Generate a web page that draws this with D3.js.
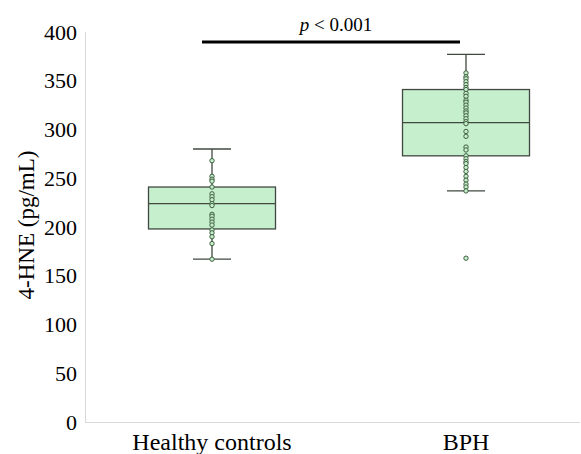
<!DOCTYPE html>
<html>
<head>
<meta charset="utf-8">
<script src="https://d3js.org/d3.v7.min.js"></script>
<style>
    body { margin: 0; background: #fff; overflow: hidden; }
    svg { display: block; }
    .frame { stroke: #d9d9d9; stroke-width: 1; }
    .box { fill: #c6efce; stroke: #404840; stroke-width: 1.3; }
    .whisk { stroke: #404840; stroke-width: 1.3; }
    .pt { fill: #c6efce; stroke: #3f5f3f; stroke-width: 1; }
</style>
</head>
<body>
<svg></svg>
<script>
    const W = 581, H = 454;

    const categories = ["Healthy controls", "BPH"];
    // [min whisker, q1, median, q3, max whisker]
    const boxStats = [
        [167, 198, 224, 241, 280],
        [237, 273, 307, 341, 377]
    ];
    const healthyPoints = [268, 252, 249, 247, 241, 234, 231, 228, 224, 222,
                           213, 211, 208, 205, 202, 197, 194, 190, 183, 167];
    const bphPoints = [358, 354, 352, 349, 346, 343, 341, 337, 334, 330, 328, 325,
                       322, 319, 317, 314, 311, 308, 306, 298, 293, 282, 279, 273,
                       270, 267, 265, 261, 257, 252, 248, 244, 241, 237, 168];
    const points = [healthyPoints, bphPoints];
    const yTicks = [0, 50, 100, 150, 200, 250, 300, 350, 400];
    const pLabel = "< 0.001";

    const padL = 85, padR = 580, padT = 32, padB = 422;
    const serif = "Liberation Serif";

    const svg = d3.select("svg").attr("width", W).attr("height", H);

    const y = d3.scaleLinear().domain([0, 400]).range([padB, padT]);
    const x = d3.scaleBand().domain(categories).range([padL, 593]);
    const boxW = x.bandwidth() * 0.5;
    const capW = 38;

    // frame
    svg.append("line").attr("class", "frame")
        .attr("x1", padL + 0.5).attr("x2", padL + 0.5).attr("y1", padT).attr("y2", padB);
    svg.append("line").attr("class", "frame")
        .attr("x1", padL).attr("x2", padR).attr("y1", padB + 0.5).attr("y2", padB + 0.5);

    // y axis labels
    const yAxis = d3.axisLeft(y).tickValues(yTicks).tickSize(0).tickPadding(8);
    const ya = svg.append("g").attr("transform", "translate(" + padL + ",0)").call(yAxis);
    ya.select(".domain").remove();
    ya.selectAll("text")
        .attr("fill", "#000")
        .style("font-family", serif)
        .style("font-size", "22px");

    // x labels
    const xAxis = d3.axisBottom(x).tickSize(0).tickPadding(11);
    const xa = svg.append("g").attr("transform", "translate(0," + padB + ")").call(xAxis);
    xa.select(".domain").remove();
    xa.selectAll("text")
        .attr("fill", "#000")
        .style("font-family", serif)
        .style("font-size", "24px");

    // y title
    svg.append("text")
        .attr("transform", "translate(34," + 225 + ") rotate(-90)")
        .attr("text-anchor", "middle")
        .style("font-family", serif)
        .style("font-size", "23px")
        .text("4-HNE (pg/mL)");

    // boxes
    const g = svg.selectAll("g.cat").data(categories).enter().append("g").attr("class", "cat");
    g.each(function(c, i) {
        const s = boxStats[i];
        const cx = x(c) + x.bandwidth() / 2;
        const sel = d3.select(this);
        sel.append("line").attr("class", "whisk")
            .attr("x1", cx).attr("x2", cx).attr("y1", y(s[4])).attr("y2", y(s[0]));
        sel.append("line").attr("class", "whisk")
            .attr("x1", cx - capW / 2).attr("x2", cx + capW / 2).attr("y1", y(s[4])).attr("y2", y(s[4]));
        sel.append("line").attr("class", "whisk")
            .attr("x1", cx - capW / 2).attr("x2", cx + capW / 2).attr("y1", y(s[0])).attr("y2", y(s[0]));
        sel.append("rect").attr("class", "box")
            .attr("x", cx - boxW / 2).attr("width", boxW)
            .attr("y", y(s[3])).attr("height", y(s[1]) - y(s[3]));
        sel.append("line").attr("class", "whisk")
            .attr("x1", cx - boxW / 2).attr("x2", cx + boxW / 2).attr("y1", y(s[2])).attr("y2", y(s[2]));
        sel.selectAll("circle").data(points[i]).enter().append("circle").attr("class", "pt")
            .attr("cx", cx).attr("cy", (d) => y(d)).attr("r", 2.2);
    });

    // significance bar
    const c0 = x(categories[0]) + x.bandwidth() / 2, c1 = x(categories[1]) + x.bandwidth() / 2;
    svg.append("line")
        .attr("x1", c0 - 10).attr("x2", c1 - 6).attr("y1", 42).attr("y2", 42)
        .attr("stroke", "#000").attr("stroke-width", 3);
    const pt = svg.append("text").attr("x", (c0 + c1) / 2 - 3).attr("y", 31)
        .attr("text-anchor", "middle")
        .style("font-family", serif).style("font-size", "19px");
    pt.append("tspan").style("font-style", "italic").text("p");
    pt.append("tspan").text(" " + pLabel);
</script>
</body>
</html>
